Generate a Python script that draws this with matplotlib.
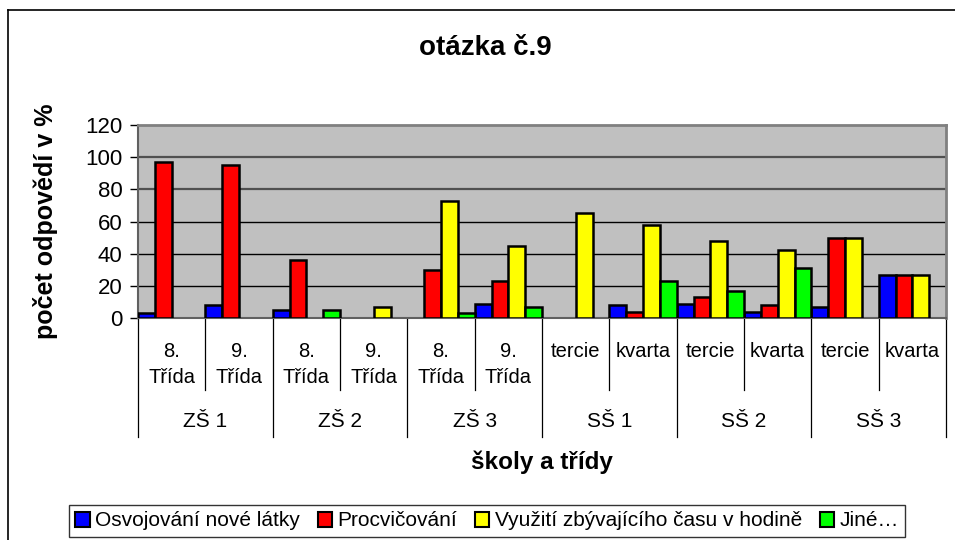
import numpy as np
import matplotlib
matplotlib.use("Agg")
import matplotlib.pyplot as plt
from matplotlib.lines import Line2D
from matplotlib.patches import Patch

plt.rcParams['font.family'] = ['Liberation Sans', 'DejaVu Sans']

title = "otázka č.9"
groups = ["ZŠ 1", "ZŠ 2", "ZŠ 3", "SŠ 1", "SŠ 2", "SŠ 3"]
subcats = ["8.\nTřída", "9.\nTřída", "8.\nTřída", "9.\nTřída", "8.\nTřída", "9.\nTřída",
           "tercie", "kvarta", "tercie", "kvarta", "tercie", "kvarta"]
series_names = ["Osvojování nové látky", "Procvičování",
                "Využití zbývajícího času v hodině", "Jiné…"]
osvojovani = [3, 8, 5, 0, 0, 9, 0, 8, 9, 4, 7, 27]
procvicovani = [97, 95, 36, 0, 30, 23, 0, 4, 13, 8, 50, 27]
vyuziti = [0, 0, 0, 7, 73, 45, 65, 58, 48, 42, 50, 27]
jine = [0, 0, 5, 0, 3, 7, 0, 23, 17, 31, 0, 0]
yticks = [0, 20, 40, 60, 80, 100, 120]

series = [osvojovani, procvicovani, vyuziti, jine]
colors = ["#0000FF", "#FF0000", "#FFFF00", "#00FF00"]

W, H = 955, 540
fig = plt.figure(figsize=(W / 100, H / 100), dpi=100)
ax = fig.add_axes([138 / W, 1 - 318 / H, (946 - 138) / W, (318 - 125) / H])
ax.set_facecolor("#C0C0C0")

n = len(subcats)
x = np.arange(n)
bw = 0.25
for j, (vals, c) in enumerate(zip(series, colors)):
    v = np.array(vals, dtype=float)
    v[v == 0] = np.nan
    ax.bar(x + (j - 1.5) * bw, v, width=bw, color=c, edgecolor="black",
           linewidth=1.8, zorder=3)

ax.set_xlim(-0.5, n - 0.5)
ax.set_ylim(0, 120)
ax.set_yticks(yticks)
ax.set_yticklabels([str(t) for t in yticks], fontsize=16)
ax.tick_params(axis="y", direction="out", length=6, width=1, pad=5)
for t in yticks[1:-1]:
    col = "#505050" if t >= 80 else "black"
    lw = 1.6 if t >= 80 else 1.0
    ax.axhline(t, color=col, linewidth=lw, zorder=1)
ax.set_xticks([])
for s in ["top", "right"]:
    ax.spines[s].set_color("#808080")
    ax.spines[s].set_linewidth(2)
ax.spines["left"].set_color("#606060")
ax.spines["left"].set_linewidth(1.5)
ax.spines["bottom"].set_color("#606060")
ax.spines["bottom"].set_linewidth(1.5)

# category axis (two levels)
tr = ax.get_xaxis_transform()
ax_h = 318 - 125
def yax(py):
    return (318 - py) / ax_h

for b in range(n + 1):
    xb = b - 0.5
    is_group = (b % 2 == 0)
    yend = 437 if is_group else 390
    ax.add_line(Line2D([xb, xb], [0, yax(yend)], transform=tr, color="black",
                       linewidth=0.9, clip_on=False))
for i, lab in enumerate(subcats):
    for k, line in enumerate(lab.split("\n")):
        ax.text(i, yax(357 + 26 * k), line, transform=tr, ha="center",
                va="baseline", fontsize=14.5)
for g, lab in enumerate(groups):
    ax.text(2 * g + 0.5, yax(427), lab, transform=tr, ha="center", va="baseline",
            fontsize=15)

fig.text(485 / W, 1 - 48 / H, title, ha="center", va="center",
         fontsize=20, fontweight="bold")
fig.text(542 / W, 1 - 462 / H, "školy a třídy", ha="center", va="center",
         fontsize=17.5, fontweight="bold")
fig.text(46 / W, 1 - 221 / H, "počet odpovědí v %", ha="center", va="center",
         rotation=90, fontsize=18, fontweight="bold")

# outer border
fig.add_artist(Line2D([8 / W, 8 / W], [0, 1 - 10 / H], transform=fig.transFigure,
                      color="black", linewidth=1.2))
fig.add_artist(Line2D([8 / W, 1], [1 - 10 / H, 1 - 10 / H], transform=fig.transFigure,
                      color="black", linewidth=1.2))

handles = [Patch(facecolor=c, edgecolor="black", linewidth=1.5) for c in colors]
leg = fig.legend(handles, series_names, loc="center",
                 bbox_to_anchor=(487 / W, 1 - 521 / H), ncol=4, fontsize=15,
                 frameon=True, fancybox=False, edgecolor="black",
                 handlelength=0.7, handleheight=0.7, handletextpad=0.25,
                 columnspacing=0.85, borderpad=0.3, borderaxespad=0)
leg.get_frame().set_linewidth(1.0)

fig.savefig("out.png", dpi=100, facecolor="white")
